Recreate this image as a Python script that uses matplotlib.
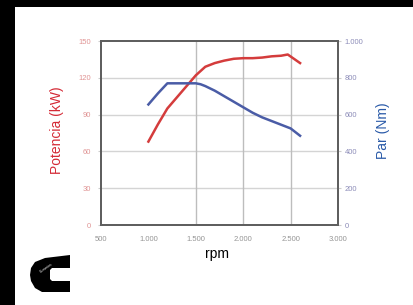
import matplotlib
matplotlib.use('Agg')
import matplotlib.pyplot as plt
from matplotlib.patches import Rectangle, Polygon

plt.rcParams['font.family'] = ['Liberation Sans', 'DejaVu Sans']

# Power curve (kW)
rpm_power = [1000, 1100, 1200, 1300, 1400, 1500, 1600, 1700, 1800, 1900,
             2000, 2100, 2200, 2300, 2400, 2470, 2600]
power_kw = [68, 82, 95, 104, 113, 122, 129, 132, 134, 135.5,
            136, 136, 136.5, 137.5, 138, 139, 132]

# Torque curve (Nm)
rpm_torque = [1000, 1100, 1200, 1300, 1400, 1500, 1550, 1600, 1700, 1800,
              1900, 2000, 2100, 2200, 2300, 2400, 2500, 2600]
torque_nm = [655, 715, 770, 770, 770, 770, 765, 755, 730, 700,
             670, 640, 610, 585, 565, 545, 525, 485]

x_ticks = [500, 1000, 1500, 2000, 2500, 3000]
x_labels = ['500', '1.000', '1.500', '2.000', '2.500', '3.000']
kw_ticks = [0, 30, 60, 90, 120, 150]
nm_ticks = [0, 200, 400, 600, 800, 1000]
nm_labels = ['0', '200', '400', '600', '800', '1.000']
vgrid = [1500, 2000, 2500]

W, H = 414, 305
fig = plt.figure(figsize=(W / 100, H / 100), dpi=100)
fig.patch.set_facecolor('black')
fig.add_artist(Rectangle((15 / W, 0), 1, 1 - 7 / H, transform=fig.transFigure,
                         facecolor='white', edgecolor='none', zorder=0))

ax = fig.add_axes([101 / W, 1 - 225 / H, 237 / W, 184 / H])
ax.set_facecolor('white')
ax.set_xlim(500, 3000)
ax.set_ylim(0, 150)
for y in kw_ticks[1:-1]:
    ax.axhline(y, color='#d4d4d4', lw=1.0, zorder=1)
for x in vgrid:
    ax.axvline(x, color='#bdbdbd', lw=1.0, zorder=1)

ax.plot(rpm_power, power_kw, color='#d43c3c', lw=1.8, zorder=3)
ax.set_xticks(x_ticks)
ax.set_xticklabels(x_labels)
ax.set_yticks(kw_ticks)
ax.tick_params(axis='y', colors='#e09494', labelsize=5.5, length=2, pad=5)
ax.tick_params(axis='y', color='#cccccc')
ax.tick_params(axis='x', colors='#959595', labelsize=5.5, length=0, pad=8)
for s in ax.spines.values():
    s.set_color('#5e5e5e')
    s.set_linewidth(1.3)

ax2 = ax.twinx()
ax2.set_ylim(0, 1000)
ax2.plot(rpm_torque, torque_nm, color='#4a5ca6', lw=1.8, zorder=3)
ax2.set_yticks(nm_ticks)
ax2.set_yticklabels(nm_labels)
ax2.tick_params(axis='y', colors='#8c8cb8', labelsize=5.5, length=2, pad=3)
ax2.tick_params(axis='y', color='#cccccc')
for s in ax2.spines.values():
    s.set_color('#5e5e5e')
    s.set_linewidth(1.3)

fig.text(57 / W, 1 - 130 / H, 'Potencia (kW)', rotation=90, color='#d42a36',
         fontsize=10, ha='center', va='center')
fig.text(383 / W, 1 - 131 / H, 'Par (Nm)', rotation=90, color='#2a5aa8',
         fontsize=10, ha='center', va='center')
fig.text(217 / W, 1 - 254 / H, 'rpm', color='black', fontsize=10,
         ha='center', va='center')

# Cummins-like logo
logo_px = [(70, 255), (70, 268), (52, 268), (50, 270), (50, 279), (52, 281),
           (70, 281), (70, 292), (42, 292), (35, 288), (31, 281), (30, 275),
           (31, 268), (35, 262), (45, 258)]
logo = Polygon([(px / W, 1 - py / H) for px, py in logo_px], closed=True,
               transform=fig.transFigure, facecolor='black', edgecolor='none')
fig.add_artist(logo)
fig.text(46 / W, 1 - 268 / H, 'Cummins', color='white', fontsize=2.5,
         rotation=35, ha='center', va='center')

fig.savefig('out.png', dpi=100, facecolor=fig.get_facecolor())
